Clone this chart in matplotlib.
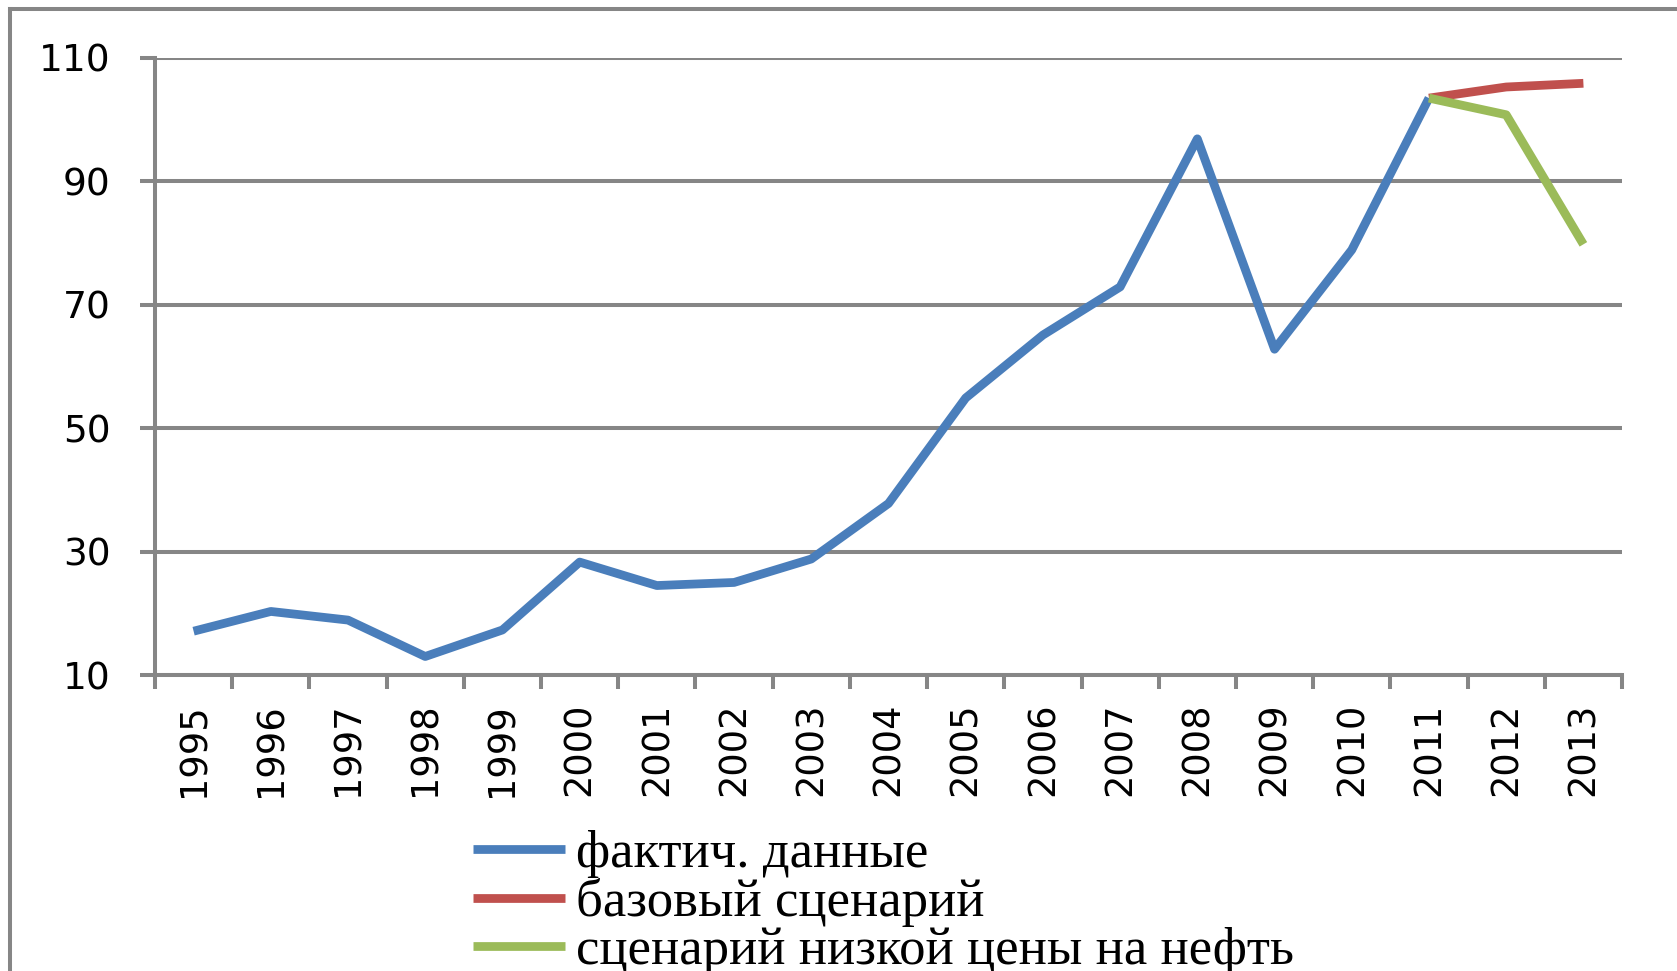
import matplotlib
matplotlib.use("Agg")
import matplotlib.pyplot as plt
from matplotlib.lines import Line2D
from matplotlib.ticker import FixedLocator, NullFormatter

# values
years = ["1995", "1996", "1997", "1998", "1999", "2000", "2001", "2002", "2003", "2004",
         "2005", "2006", "2007", "2008", "2009", "2010", "2011", "2012", "2013"]
fact = [17.1, 20.3, 18.9, 13.0, 17.3, 28.3, 24.5, 25.0, 28.8, 37.8,
        54.9, 65.1, 72.9, 96.9, 62.8, 78.9, 103.5]
base = [103.5, 105.3, 105.9]   # 2011-2013
low = [103.5, 100.8, 79.8]     # 2011-2013
yticks = [10, 30, 50, 70, 90, 110]
labels = ["фактич. данные", "базовый сценарий", "сценарий низкой цены на нефть"]

grey = "#868686"
colors = ["#4A7EBB", "#C0504D", "#9BBB59"]

fig = plt.figure(figsize=(16.77, 9.71), dpi=100)
ax = fig.add_axes([155 / 1677, 1 - 675 / 971, (1622 - 155) / 1677, (675 - 58) / 971])

x = list(range(len(years)))
lw = 6.3
l1, = ax.plot(x[:len(fact)], fact, color=colors[0], lw=lw, solid_joinstyle="round", solid_capstyle="butt")
l2, = ax.plot(x[16:], base, color=colors[1], lw=lw, solid_joinstyle="round", solid_capstyle="butt")
l3, = ax.plot(x[16:], low, color=colors[2], lw=lw, solid_joinstyle="round", solid_capstyle="butt")

ax.set_xlim(-0.5, len(years) - 0.5)
ax.set_ylim(10, 110)

# category ticks between years, labels in the middle
ax.xaxis.set_major_locator(FixedLocator([i - 0.5 for i in range(len(years) + 1)]))
ax.xaxis.set_major_formatter(NullFormatter())
ax.xaxis.set_minor_locator(FixedLocator(x))
ax.set_xticklabels(years, minor=True, rotation=90, fontsize=26.5, family="DejaVu Sans")
ax.tick_params(axis="x", which="major", length=10, width=2.9, color=grey, direction="out")
ax.tick_params(axis="x", which="minor", length=0, pad=20)

ax.set_yticks(yticks)
ax.set_yticklabels([str(v) for v in yticks], fontsize=27, family="DejaVu Sans")
ax.tick_params(axis="y", length=11, width=2.9, color=grey, direction="out", pad=21)

ax.grid(axis="y", color=grey, lw=2.9)
ax.set_axisbelow(True)
for s in ["top", "right"]:
    ax.spines[s].set_visible(False)
for s in ["left", "bottom"]:
    ax.spines[s].set_color(grey)
    ax.spines[s].set_linewidth(2.9)

# outer chart border (only top and left show in the crop)
fig.add_artist(Line2D([10 / 1677, 10 / 1677], [-0.1, 1 - 9 / 971], color=grey, lw=2.9))
fig.add_artist(Line2D([10 / 1677, 1.1], [1 - 9 / 971, 1 - 9 / 971], color=grey, lw=2.9))

fig.legend([l1, l2, l3], labels, loc="upper left", bbox_to_anchor=(473 / 1677, 1 - 830 / 971),
           frameon=False, borderpad=0, borderaxespad=0, handlelength=1.75, handletextpad=0.2,
           labelspacing=0.0, prop={"family": "Liberation Serif", "size": 38})

fig.savefig("out.png", dpi=100)
